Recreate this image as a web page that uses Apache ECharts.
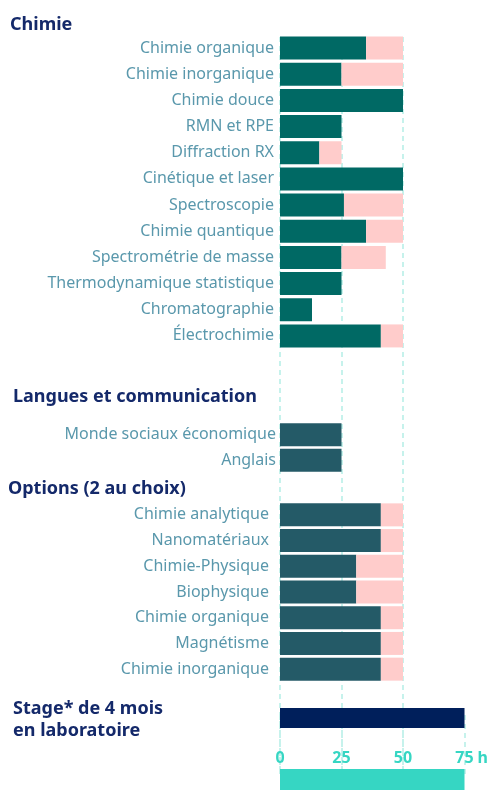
<!DOCTYPE html>
<html>
<head>
<meta charset="utf-8">
<script src="https://cdn.jsdelivr.net/npm/echarts@6/dist/echarts.min.js"></script>
<style>
html,body{margin:0;padding:0;background:#fff}
#container{width:491px;height:791px}
</style>
</head>
<body>
<div id="container"></div>
<script>
// heures de cours par UE (base = heures principales, supp = partie rose)
var chimieNoms = ['Chimie organique','Chimie inorganique','Chimie douce','RMN et RPE','Diffraction RX',
	'Cinétique et laser','Spectroscopie','Chimie quantique','Spectrométrie de masse',
	'Thermodynamique statistique','Chromatographie','Électrochimie'];
var chimieBase = [35,25,50,25,16,50,26,35,25,25,13,41];
var chimieSupp = [15,25,0,0,9,0,24,15,18,0,0,9];

var languesNoms = ['Monde sociaux économique','Anglais'];
var languesHeures = [25,25];

var optionsNoms = ['Chimie analytique','Nanomatériaux','Chimie-Physique','Biophysique',
	'Chimie organique','Magnétisme','Chimie inorganique'];
var optionsBase = [41,41,31,31,41,41,41];
var optionsSupp = [9,9,19,19,9,9,9];

var stageHeures = [75];
var echelle = [75];
var graduations = [0,25,50,75];

var police = '"Noto Sans", sans-serif';
var couleurTexte = '#5A98AC';
var couleurTitre = '#14296A';
var MAX = graduations[graduations.length-1];
var PAS = graduations[1]-graduations[0];

var dom = document.getElementById("container");
var myChart = echarts.init(dom);

function axeX(i, extra){
	var ax = {
		type: 'value', gridIndex: i, min: 0, max: MAX, interval: PAS,
		axisLine: {show: false}, axisTick: {show: false},
		axisLabel: {show: false}, splitLine: {show: false}
	};
	for (var k in extra) ax[k] = extra[k];
	return ax;
}
function axeY(i, noms, marge){
	return {
		type: 'category', gridIndex: i, inverse: true, data: noms,
		axisLine: {show: false}, axisTick: {show: false}, splitLine: {show: false},
		axisLabel: {show: marge != null, margin: marge || 0, color: couleurTexte, fontSize: 16, fontFamily: police}
	};
}
var pointilles = {show: true, lineStyle: {color: '#C6F2EC', width: 2, type: [5,4]}};
var styleTitre = {fontSize: 18, fontWeight: 'bold', color: couleurTitre, fontFamily: police};

var option = {
	animation: false,
	title: [
		{text: 'Chimie', left: 10, top: 16, padding: 0, textStyle: styleTitre},
		{text: 'Langues et communication', left: 13, top: 388, padding: 0, textStyle: styleTitre},
		{text: 'Options (2 au choix)', left: 8, top: 480, padding: 0, textStyle: styleTitre},
		{text: 'Stage* de 4 mois\nen laboratoire', left: 13, top: 698, padding: 0,
			textStyle: {fontSize: 18, fontWeight: 'bold', lineHeight: 22, color: couleurTitre, fontFamily: police}}
	],
	grid: [
		{left: 280, right: 26.5, top: 35, height: 314},
		{left: 280, right: 26.5, top: 422, height: 51},
		{left: 280, right: 26.5, top: 502, height: 180},
		{left: 280, right: 26.5, top: 706, height: 24},
		{left: 280, right: 26.5, top: 769, height: 21},
		{left: 280, right: 88, top: 37, height: 733},
		{left: 280, right: 26.5, top: 715, height: 63}
	],
	xAxis: [
		axeX(0), axeX(1), axeX(2), axeX(3),
		axeX(4, {
			position: 'top',
			name: 'h', nameLocation: 'end', nameGap: 7,
			nameTextStyle: {color: '#36D6C3', fontSize: 16, fontWeight: 'bold', fontFamily: police, verticalAlign: 'bottom', padding: [0,0,3,0]},
			axisLabel: {show: true, margin: 3, color: '#36D6C3', fontSize: 16, fontWeight: 'bold', fontFamily: police}
		}),
		axeX(5, {max: 50, splitLine: pointilles}),
		axeX(6, {splitLine: pointilles})
	],
	yAxis: [
		axeY(0, chimieNoms, 6),
		axeY(1, languesNoms, 4),
		axeY(2, optionsNoms, 11),
		axeY(3, ['']),
		axeY(4, ['']),
		axeY(5, ['']),
		axeY(6, [''])
	],
	series: [
		{name: 'chimie', type: 'bar', xAxisIndex: 0, yAxisIndex: 0, stack: 'c', barWidth: 23, data: chimieBase, itemStyle: {color: '#006964'}},
		{name: 'chimie+', type: 'bar', xAxisIndex: 0, yAxisIndex: 0, stack: 'c', barWidth: 23, data: chimieSupp, itemStyle: {color: '#FFCCCB'}},
		{name: 'langues', type: 'bar', xAxisIndex: 1, yAxisIndex: 1, barWidth: 23, data: languesHeures, itemStyle: {color: '#245A67'}},
		{name: 'options', type: 'bar', xAxisIndex: 2, yAxisIndex: 2, stack: 'o', barWidth: 23, data: optionsBase, itemStyle: {color: '#245A67'}},
		{name: 'options+', type: 'bar', xAxisIndex: 2, yAxisIndex: 2, stack: 'o', barWidth: 23, data: optionsSupp, itemStyle: {color: '#FFCCCB'}},
		{name: 'stage', type: 'bar', xAxisIndex: 3, yAxisIndex: 3, barWidth: 20, data: stageHeures, itemStyle: {color: '#001F5B'}},
		{name: 'echelle', type: 'bar', xAxisIndex: 4, yAxisIndex: 4, barWidth: 21, data: echelle, itemStyle: {color: '#36D6C3'}}
	]
};
myChart.setOption(option, true);
</script>
</body>
</html>
